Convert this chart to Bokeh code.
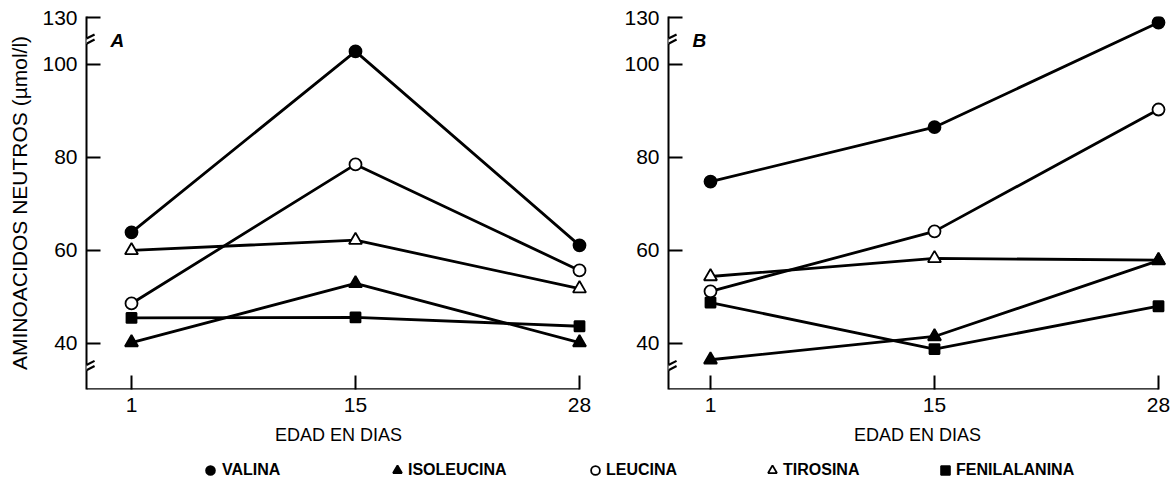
from bokeh.plotting import figure
from bokeh.layouts import column, row
from bokeh.models import FixedTicker, Label, Arrow, Legend, LegendItem, Range1d
from bokeh.embed import file_html
from bokeh.resources import INLINE

# ---------------- data (µmol/l) ----------------
days = ["1", "15", "28"]
series_names = ["VALINA", "ISOLEUCINA", "LEUCINA", "TIROSINA", "FENILALANINA"]

valina_a = [63.9, 102.8, 61.1]
isoleucina_a = [40.2, 52.9, 40.2]
leucina_a = [48.6, 78.5, 55.7]
tirosina_a = [60.0, 62.2, 51.8]
fenilalanina_a = [45.5, 45.6, 43.7]

valina_b = [74.8, 86.5, 129.0]
isoleucina_b = [36.5, 41.5, 57.8]
leucina_b = [51.2, 64.1, 90.3]
tirosina_b = [54.4, 58.3, 57.9]
fenilalanina_b = [48.8, 38.8, 48.0]

y_ticks = [40, 60, 80, 100, 130]

# axis break: values between BREAK_FROM and BREAK_TO are cut out of the axis
BREAK_FROM, BREAK_TO = 105, 125
LOW_BREAK = 34.8


def axis_pos(v):
    return v if v <= BREAK_FROM else v - (BREAK_TO - BREAK_FROM)


FONT = "Liberation Sans"
Y0, Y1 = 30.1, 110.3

styles = {
    "VALINA": dict(marker="circle", size=12, fill_color="black"),
    "ISOLEUCINA": dict(marker="triangle", size=13, fill_color="black"),
    "LEUCINA": dict(marker="circle", size=12, fill_color="white"),
    "TIROSINA": dict(marker="triangle", size=13, fill_color="white"),
    "FENILALANINA": dict(marker="square", size=10, fill_color="black"),
}
draw_order = ["TIROSINA", "LEUCINA", "FENILALANINA", "VALINA", "ISOLEUCINA"]


def make_panel(tag, data, width, border_left, border_right, x_start, x_end, ylabel):
    p = figure(width=width, height=450, output_backend="svg", toolbar_location=None,
               x_range=Range1d(x_start, x_end), y_range=Range1d(Y0, Y1),
               min_border_left=border_left, min_border_right=border_right,
               min_border_top=16, min_border_bottom=61)
    p.outline_line_color = None
    p.grid.visible = False
    p.background_fill_color = "white"
    p.border_fill_color = "white"

    xs = list(range(len(days)))
    xa = p.xaxis[0]
    xa.ticker = FixedTicker(ticks=xs)
    xa.major_label_overrides = {i: d for i, d in enumerate(days)}
    xa.major_tick_in = 14
    xa.major_tick_out = 0
    xa.minor_tick_line_color = None
    xa.axis_line_color = None
    xa.major_tick_line_width = 2
    xa.major_tick_line_color = "black"
    xa.major_label_text_font = FONT
    xa.major_label_text_font_size = "21px"
    xa.major_label_text_color = "black"
    xa.major_label_standoff = 8
    xa.axis_label = "EDAD EN DIAS"
    xa.axis_label_text_font = FONT
    xa.axis_label_text_font_size = "18px"
    xa.axis_label_text_font_style = "normal"
    xa.axis_label_text_color = "black"
    xa.axis_label_standoff = 10

    ya = p.yaxis[0]
    tick_pos = [axis_pos(t) for t in y_ticks]
    ya.ticker = FixedTicker(ticks=tick_pos)
    ya.major_label_overrides = {axis_pos(t): str(t) for t in y_ticks}
    ya.major_tick_in = 14
    ya.major_tick_out = 0
    ya.minor_tick_line_color = None
    ya.axis_line_width = 2
    ya.axis_line_color = "black"
    ya.major_tick_line_width = 2
    ya.major_tick_line_color = "black"
    ya.major_label_text_font = FONT
    ya.major_label_text_font_size = "21px"
    ya.major_label_text_color = "black"
    ya.major_label_standoff = 9
    if ylabel:
        ya.axis_label = ylabel
        ya.axis_label_text_font = FONT
        ya.axis_label_text_font_size = "21px"
        ya.axis_label_text_font_style = "normal"
        ya.axis_label_text_color = "black"
        ya.axis_label_standoff = 8

    # bottom axis line ending at the last tick
    p.add_layout(Arrow(x_start=x_start, y_start=Y0, x_end=xs[-1], y_end=Y0,
                       start=None, end=None, line_width=2.5, line_color="black"))

    # axis break marks
    dx = 0.036
    for pos in (axis_pos(BREAK_FROM), LOW_BREAK):
        p.add_layout(Arrow(x_start=x_start, y_start=pos - 0.6, x_end=x_start, y_end=pos + 0.6,
                           start=None, end=None, line_width=4, line_color="white"))
        for off in (-0.55, 0.55):
            p.add_layout(Arrow(x_start=x_start - dx, y_start=pos + off - 0.9,
                               x_end=x_start + dx, y_end=pos + off + 0.9,
                               start=None, end=None, line_width=2.2, line_color="black"))

    for name in draw_order:
        vals = [axis_pos(v) for v in data[name]]
        p.line(xs, vals, line_color="black", line_width=2.8)
    for name in draw_order:
        vals = [axis_pos(v) for v in data[name]]
        st = styles[name]
        p.scatter(xs, vals, marker=st["marker"], size=st["size"], fill_color=st["fill_color"],
                  line_color="black", line_width=1.8)

    p.add_layout(Label(x=x_start + 24 / 224, y=105.2, text=tag, text_font=FONT,
                       text_font_size="19px", text_font_style="bold italic",
                       text_color="black", text_baseline="alphabetic"))
    return p


data_a = {"VALINA": valina_a, "ISOLEUCINA": isoleucina_a, "LEUCINA": leucina_a,
          "TIROSINA": tirosina_a, "FENILALANINA": fenilalanina_a}
data_b = {"VALINA": valina_b, "ISOLEUCINA": isoleucina_b, "LEUCINA": leucina_b,
          "TIROSINA": tirosina_b, "FENILALANINA": fenilalanina_b}

pa = make_panel("A", data_a, 620, 86, 30, -45 / 224, 2 + 11 / 224,
                "AMINOACIDOS NEUTROS (\u00b5mol/l)")
pb = make_panel("B", data_b, 551, 48, 5, -42 / 224, 2 + 8 / 224, None)

# ---------------- legend strip ----------------
leg = figure(width=1171, height=34, output_backend="svg", toolbar_location=None,
             min_border=0, x_range=Range1d(0, 1), y_range=Range1d(0, 1))
leg.axis.visible = False
leg.grid.visible = False
leg.outline_line_color = None

legend_x = [199, 386, 584, 761, 934]
legend_standoff = [1, -4, -4, -1, -1]
for name, lx, so in zip(series_names, legend_x, legend_standoff):
    st = styles[name]
    # proxy renderer kept outside the strip's visible range; only its legend glyph shows
    r = leg.scatter(x=[-5], y=[-5], marker=st["marker"], size=st["size"],
                    fill_color=st["fill_color"], line_color="black", line_width=1.8)
    lg = Legend(items=[LegendItem(label=name, renderers=[r])], location=(lx, 3),
                border_line_color=None, background_fill_alpha=0, padding=0, margin=0,
                glyph_width=22, glyph_height=22, label_height=22, label_standoff=so,
                label_text_font=FONT, label_text_font_size="16px",
                label_text_font_style="bold", label_text_color="black")
    leg.add_layout(lg)

layout = column(row(pa, pb), leg)
open("out.html", "w").write(file_html(layout, INLINE))
